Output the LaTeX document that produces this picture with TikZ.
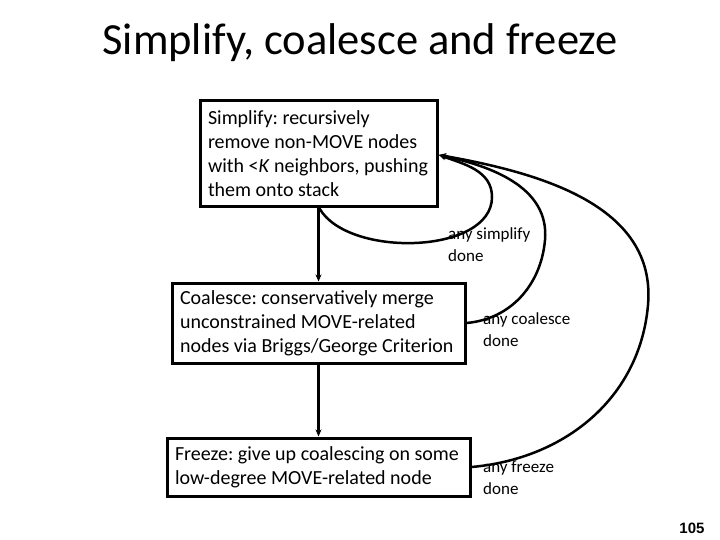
\documentclass[tikz,border=0pt]{standalone}
\usepackage{fontspec}
\setmainfont{Carlito}
\newfontfamily\pgnum{Liberation Sans}
\usetikzlibrary{arrows.meta}
\frenchspacing
\begin{document}
\begin{tikzpicture}[x=1pt,y=-1pt,
  stepbox/.style={draw, line width=3pt, inner xsep=7pt, inner ysep=0pt, align=flush left,
     font=\frenchspacing\fontsize{20}{24}\selectfont},
  lab/.style={anchor=north west, inner sep=0pt, align=flush left, font=\fontsize{17}{22}\selectfont},
  conn/.style={line width=2.5pt, -{Stealth[length=7pt,width=6pt]}}]
\useasboundingbox (0,0) rectangle (720,540);
\node[anchor=base, font=\fontsize{44.5}{50}\selectfont] (title) at (360,55) {Simplify, coalesce and freeze};
\node[stepbox, minimum width=237, minimum height=106, text width=221] (s) at (318.5,154)
  {Simplify: recursively\\remove non-MOVE nodes\\with <\textit{K} neighbors, pushing\\them onto stack};
\node[stepbox, minimum width=293, minimum height=80, text width=277] (c) at (318.5,323)
  {Coalesce: conservatively merge\\unconstrained MOVE-related\\nodes via Briggs/George Criterion};
\node[stepbox, minimum width=303, minimum height=58, text width=287] (f) at (318.5,467)
  {Freeze: give up coalescing on some\\low-degree MOVE-related node};
\draw[conn] (s.south) -- (c.north);
\draw[conn] (c.south) -- (f.north);
\coordinate (tgt) at (439,155);
\draw[conn] ([xshift=1pt]s.south) to[out=-60,in=-90,looseness=0.85] (492,197) to[out=90,in=-20] (tgt);
\draw[conn] (c.east) to[out=5,in=-95] (545,240) to[out=85,in=-12] (tgt);
\draw[conn] (f.east) to[out=5,in=-95] (648,305) to[out=85,in=-10] (tgt);
\node[lab] (l1) at (448,227) {any simplify\\done};
\node[lab] (l2) at (483,312) {any coalesce\\done};
\node[lab] (l3) at (483,461) {any freeze\\done};
\node[anchor=base, font=\pgnum\bfseries\fontsize{15}{18}\selectfont] (pg) at (692,533) {105};
\end{tikzpicture}
\end{document}
